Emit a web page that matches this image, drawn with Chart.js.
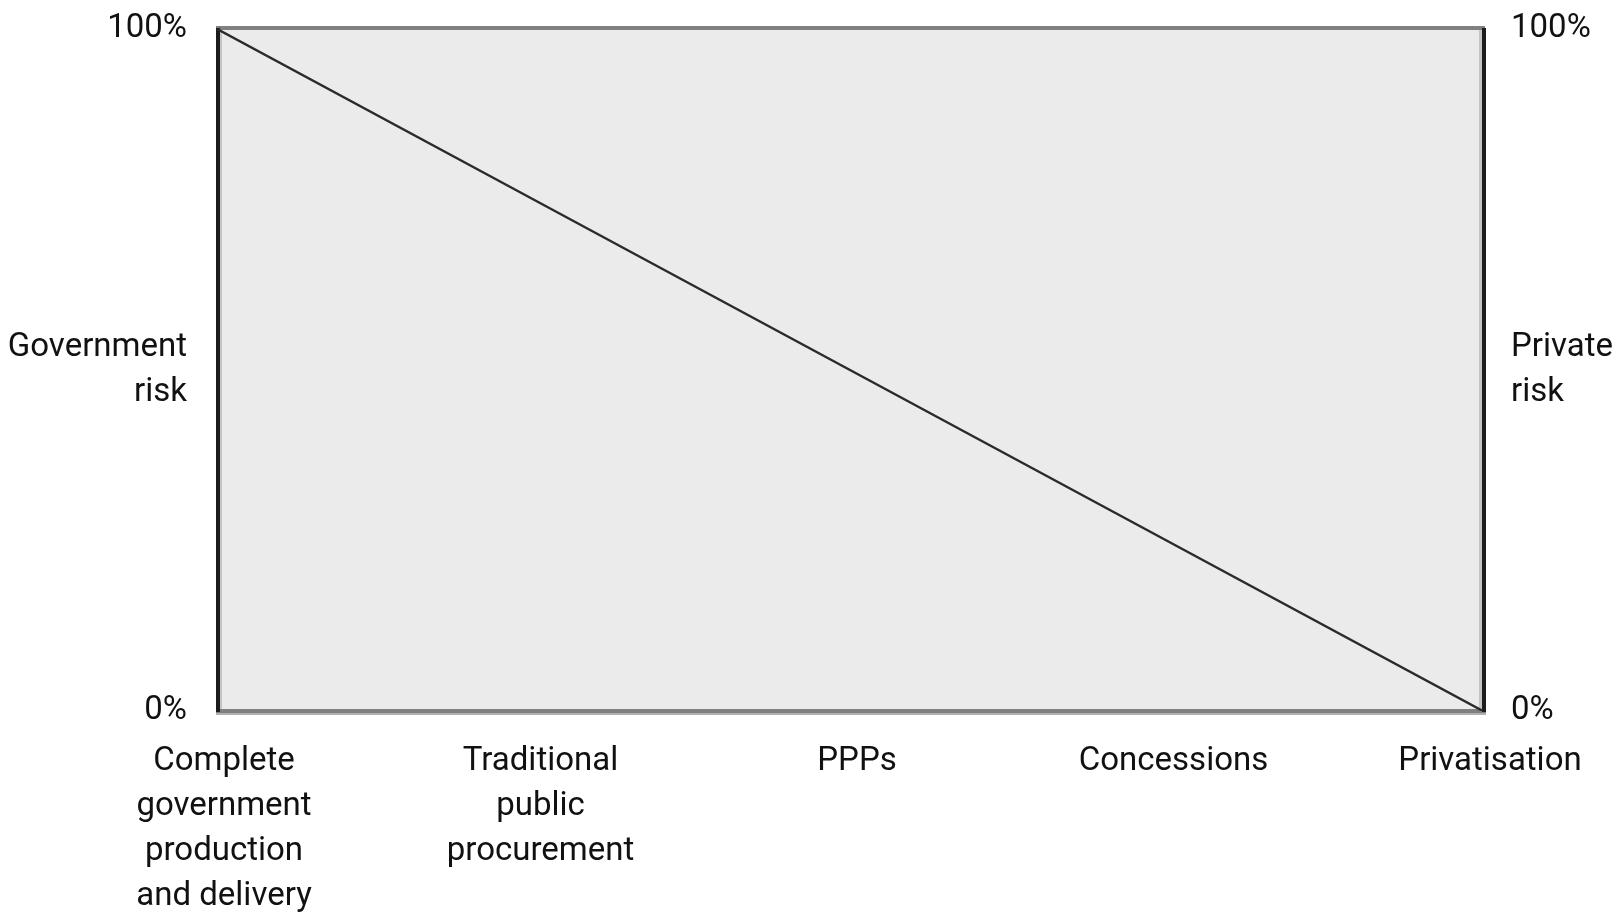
<!DOCTYPE html>
<html>
<head>
<meta charset="utf-8">
<style>
  html, body { margin: 0; padding: 0; background: #ffffff; }
  #wrap { width: 1620px; height: 913px; }
</style>
<script src="https://cdn.jsdelivr.net/npm/chart.js@4/dist/chart.umd.min.js"></script>
</head>
<body>
<div id="wrap"><canvas id="c" width="1620" height="913"></canvas></div>
<script>
const categories = [
  ["Complete", "government", "production", "and delivery"],
  ["Traditional", "public", "procurement"],
  ["PPPs"],
  ["Concessions"],
  ["Privatisation"]
];
const governmentRisk = [100, 75, 50, 25, 0];
const yTickValues = [0, 50, 100];
const leftTickLabels = ["0%", ["Government", "risk"], "100%"];
const rightTickLabels = ["0%", ["Private", "risk"], "100%"];

const FONT = "Roboto, 'Liberation Sans', sans-serif";
const FSIZE = 33;
const LH = 1.37;

const framePlugin = {
  id: 'frame',
  beforeDatasetsDraw(chart) {
    const { ctx, chartArea: a } = chart;
    ctx.save();
    ctx.fillStyle = '#ebebeb';
    ctx.fillRect(a.left, a.top, a.right - a.left, a.bottom - a.top);
    // light inner strips
    ctx.fillStyle = '#c4c4c4';
    ctx.fillRect(a.left + 2, a.top, 3, a.bottom - a.top);
    ctx.fillRect(a.right - 4, a.top, 3, a.bottom - a.top);
    // top and bottom grey borders
    ctx.fillStyle = '#808080';
    ctx.fillRect(a.left - 1, a.top - 3, a.right - a.left + 3, 4);
    ctx.fillRect(a.left - 1, a.bottom - 2, a.right - a.left + 4, 4);
    ctx.fillStyle = '#b0b0b0';
    ctx.fillRect(a.left - 1, a.bottom + 2, a.right - a.left + 4, 2);
    // left and right black borders
    ctx.fillStyle = '#1c1c1c';
    ctx.fillRect(a.left - 1, a.top - 1, 4, a.bottom - a.top + 2);
    ctx.fillRect(a.right - 1, a.top - 1, 4, a.bottom - a.top + 2);
    ctx.restore();
  }
};

function zeroPad(s) {
  s.paddingTop = 0; s.paddingBottom = 0; s.paddingLeft = 0; s.paddingRight = 0;
}

new Chart(document.getElementById('c'), {
  type: 'line',
  data: {
    labels: categories,
    datasets: [{
      data: governmentRisk,
      borderColor: '#2b2b2b',
      borderWidth: 2.5,
      pointRadius: 0,
      fill: false,
      tension: 0
    }]
  },
  options: {
    responsive: false,
    animation: false,
    layout: { padding: { top: 29, left: 0, right: 0, bottom: 0 } },
    plugins: { legend: { display: false }, tooltip: { enabled: false } },
    scales: {
      x: {
        type: 'category',
        offset: false,
        grid: { display: false },
        border: { display: false },
        ticks: {
          autoSkip: false,
          maxRotation: 0,
          minRotation: 0,
          padding: 20,
          labelOffset: 7,
          color: '#111111',
          font: { family: FONT, size: FSIZE, lineHeight: LH }
        },
        afterFit(s) { s.height = 202; zeroPad(s); }
      },
      y: {
        position: 'left',
        min: 0, max: 100,
        grid: { display: false },
        border: { display: false },
        afterBuildTicks(s) { s.ticks = yTickValues.map(v => ({ value: v })); },
        ticks: {
          padding: 22,
          color: '#111111',
          font: { family: FONT, size: FSIZE, lineHeight: LH },
          callback(v) { return leftTickLabels[yTickValues.indexOf(v)]; }
        },
        afterFit(s) { s.width = 217; zeroPad(s); }
      },
      y2: {
        position: 'right',
        min: 0, max: 100,
        grid: { display: false },
        border: { display: false },
        afterBuildTicks(s) { s.ticks = yTickValues.map(v => ({ value: v })); },
        ticks: {
          padding: 20,
          color: '#111111',
          font: { family: FONT, size: FSIZE, lineHeight: LH },
          callback(v) { return rightTickLabels[yTickValues.indexOf(v)]; }
        },
        afterFit(s) { s.width = 137; zeroPad(s); }
      }
    }
  },
  plugins: [framePlugin]
});
</script>
</body>
</html>
